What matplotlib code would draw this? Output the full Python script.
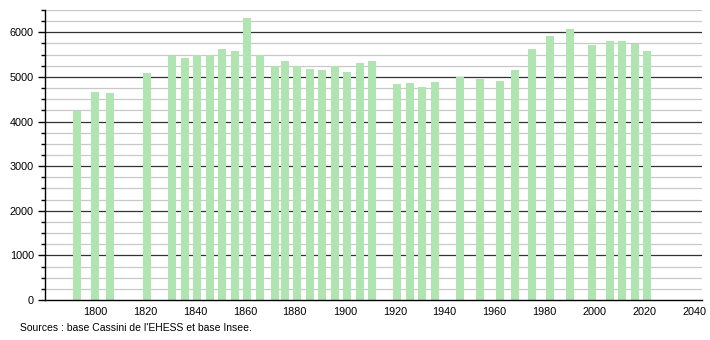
import numpy as np
import matplotlib
matplotlib.use("Agg")
from matplotlib import pyplot as plt
from matplotlib.ticker import MultipleLocator

years = [1793, 1800, 1806, 1821, 1831, 1836, 1841, 1846, 1851, 1856,
         1861, 1866, 1872, 1876, 1881, 1886, 1891, 1896, 1901, 1906,
         1911, 1921, 1926, 1931, 1936, 1946, 1954, 1962, 1968, 1975,
         1982, 1990, 1999, 2006, 2011, 2016, 2021]
pop = [4231, 4652, 4644, 5079, 5468, 5416, 5498, 5498, 5618, 5573,
       6310, 5483, 5251, 5348, 5251, 5168, 5146, 5243, 5101, 5303,
       5348, 4831, 4854, 4764, 4876, 4989, 4944, 4899, 5146, 5618,
       5910, 6067, 5715, 5798, 5798, 5738, 5573]
source = "Sources : base Cassini de l'EHESS et base Insee."

plt.rcParams['font.family'] = ['Liberation Sans', 'DejaVu Sans']

fig = plt.figure(figsize=(7.1, 3.4), dpi=100)
ax = fig.add_axes([45/710, 40/340, 657/710, 290/340])

# grid: light every 250, dark every 1000
for v in np.arange(250, 6501, 250):
    if v % 1000 == 0:
        ax.axhline(v, color='#333333', lw=0.9, zorder=1)
    else:
        ax.axhline(v, color='#c8c8c8', lw=0.9, zorder=1)

ax.bar(years, pop, width=3.2, color='#b0e4b0', zorder=2)

ax.set_xlim(1780, 2043)
ax.set_ylim(0, 6500)
ax.yaxis.set_major_locator(MultipleLocator(1000))
ax.yaxis.set_minor_locator(MultipleLocator(250))
ax.set_xticks(np.arange(1800, 2041, 20))

for s in ['top', 'right']:
    ax.spines[s].set_visible(False)
ax.spines['left'].set_linewidth(1)
ax.spines['bottom'].set_linewidth(1)

ax.tick_params(axis='y', which='major', length=5, width=1, labelsize=7.8, pad=3)
ax.tick_params(axis='y', which='minor', length=3, width=1)
ax.tick_params(axis='x', which='major', length=0, labelsize=7.8, pad=5)

fig.text(20/710, 1 - 328/340, source, fontsize=7.5, va='center', ha='left')

fig.savefig("out.png", dpi=100)
